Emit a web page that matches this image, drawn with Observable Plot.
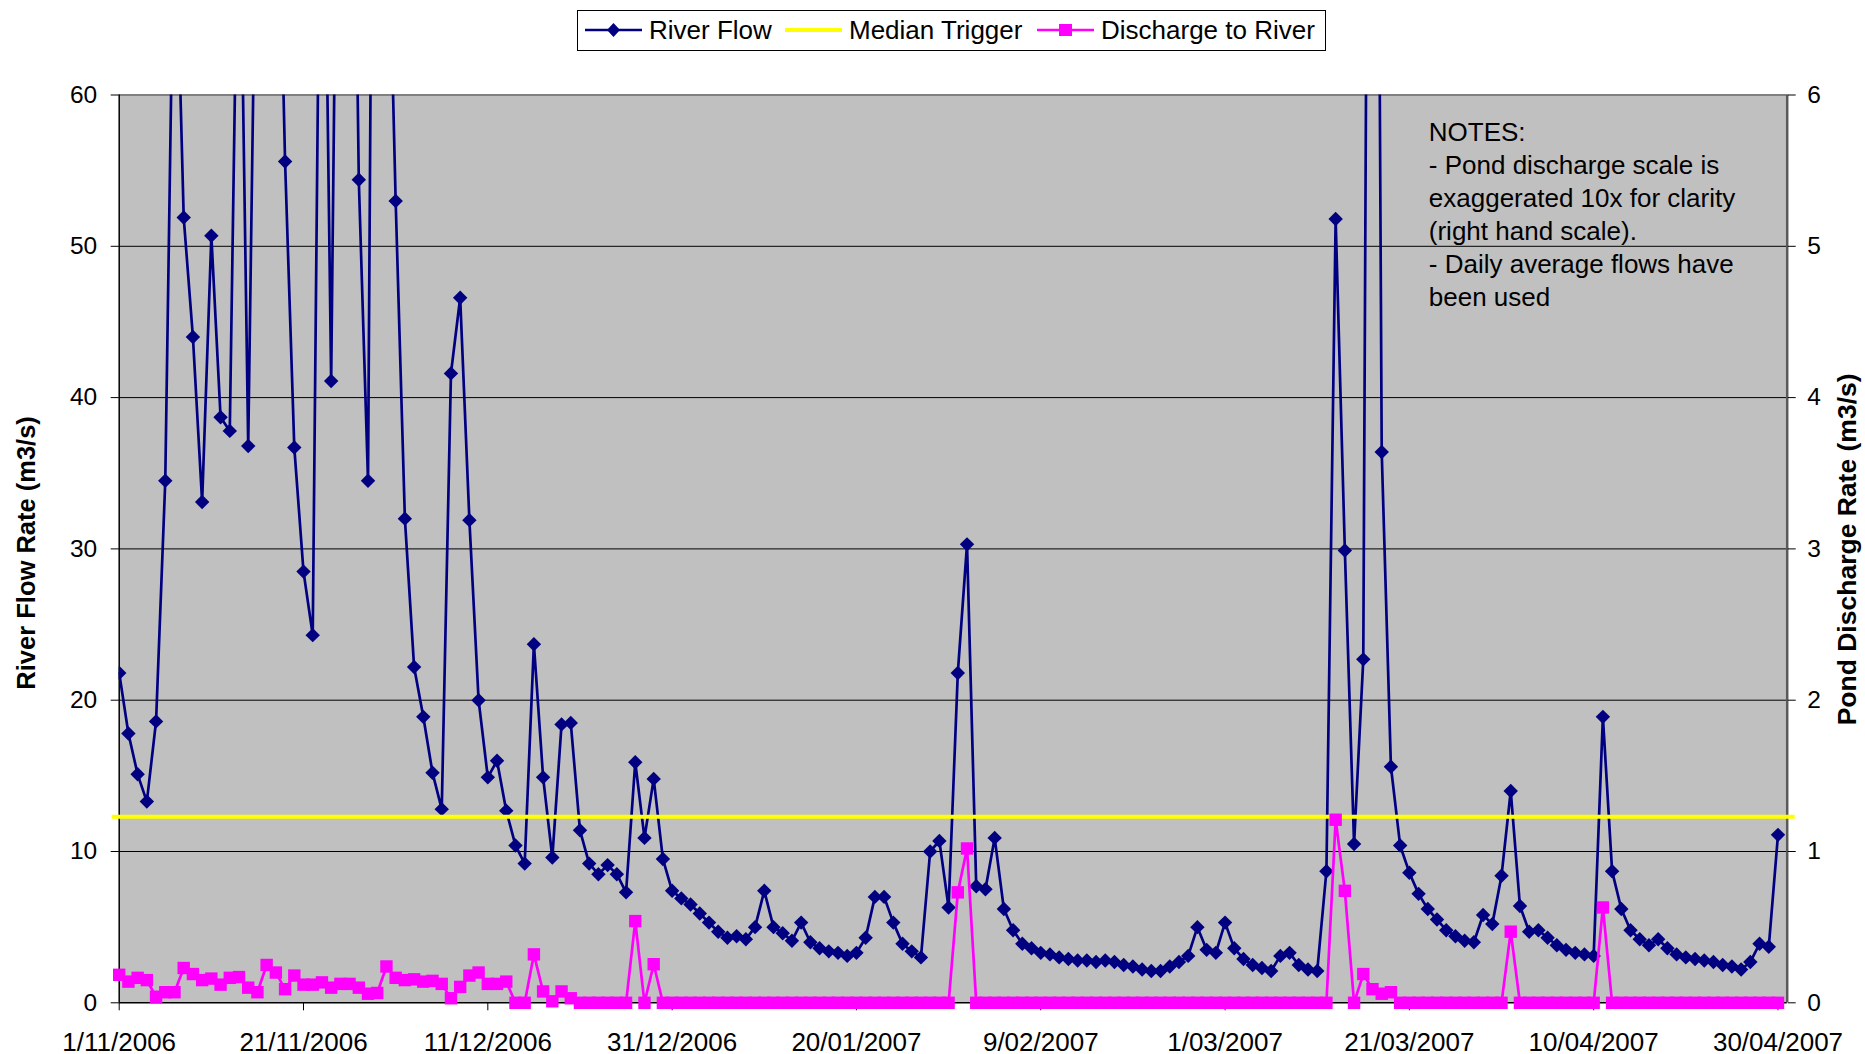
<!DOCTYPE html>
<html>
<head>
<meta charset="utf-8">
<script src="https://cdn.jsdelivr.net/npm/d3@7"></script>
<script src="https://cdn.jsdelivr.net/npm/@observablehq/plot@0.6"></script>
<style>
  html, body { margin: 0; padding: 0; background: #ffffff; }
  #wrap { position: relative; width: 1865px; height: 1054px; font-family: "Liberation Sans", Arial, sans-serif; }
  #legend { position: absolute; left: 577px; top: 9.5px; width: 749px; height: 41px; box-sizing: border-box;
            border: 1px solid #000; background: #fff; }
  .item { position: absolute; top: 0; height: 39px; display: flex; align-items: center; font-size: 26px; color: #000; white-space: nowrap; }
  .item svg { display: block; margin-right: 7px; }
</style>
</head>
<body>
<div id="wrap">
  <div id="chart"></div>
  <div id="legend"></div>
</div>
<script>
// ---- data ----
const startLabel = "1/11/2006";
const endLabel = "1/05/2007";
const xTickLabels = ["1/11/2006","21/11/2006","11/12/2006","31/12/2006","20/01/2007","9/02/2007","1/03/2007","21/03/2007","10/04/2007","30/04/2007"];
const yTicks = [0, 10, 20, 30, 40, 50, 60];
const medianTrigger = 12.3;
const seriesNames = ["River Flow", "Median Trigger", "Discharge to River"];
const seriesColors = ["#000080", "#ffff00", "#ff00ff"];
const leftTitle = "River Flow Rate (m3/s)";
const rightTitle = "Pond Discharge Rate (m3/s)";
const notes = "NOTES:\n- Pond discharge scale is\nexaggerated 10x for clarity\n(right hand scale).\n- Daily average flows have\nbeen used";

// daily river flow (m3/s), 1/11/2006 .. 30/04/2007 (values above 60 are off-chart estimates)
const riverFlow = [
  21.8, 17.8, 15.1, 13.3, 18.6, 34.5, 75, 51.9, 44.0, 33.1,
  50.7, 38.7, 37.8, 78, 36.8, 80, 90, 82, 55.6, 36.7,
  28.5, 24.3, 88, 41.1, 98, 100, 54.4, 34.5, 130, 78,
  53.0, 32.0, 22.2, 18.9, 15.2, 12.8, 41.6, 46.6, 31.9, 20.0,
  14.9, 16.0, 12.7, 10.4, 9.2, 23.7, 14.9, 9.6, 18.4, 18.5,
  11.4, 9.2, 8.5, 9.1, 8.5, 7.3, 15.9, 10.9, 14.8, 9.5,
  7.4, 6.9, 6.5, 5.9, 5.3, 4.7, 4.3, 4.4, 4.2, 5.0,
  7.4, 5.0, 4.6, 4.1, 5.3, 4.0, 3.6, 3.4, 3.3, 3.1,
  3.3, 4.3, 7.0, 7.0, 5.3, 3.9, 3.4, 3.0, 10.0, 10.7,
  6.3, 21.8, 30.3, 7.7, 7.5, 10.9, 6.2, 4.8, 3.9, 3.6,
  3.3, 3.2, 3.0, 2.9, 2.8, 2.8, 2.7, 2.8, 2.7, 2.5,
  2.4, 2.2, 2.1, 2.1, 2.4, 2.7, 3.1, 5.0, 3.5, 3.3,
  5.3, 3.6, 2.9, 2.5, 2.3, 2.1, 3.1, 3.3, 2.5, 2.2,
  2.1, 8.7, 51.8, 29.9, 10.5, 22.7, 150, 36.4, 15.6, 10.4,
  8.6, 7.2, 6.2, 5.5, 4.8, 4.4, 4.1, 4.0, 5.8, 5.2,
  8.4, 14.0, 6.4, 4.7, 4.8, 4.3, 3.8, 3.5, 3.3, 3.2,
  3.1, 18.9, 8.7, 6.2, 4.8, 4.2, 3.8, 4.2, 3.6, 3.2,
  3.0, 2.9, 2.8, 2.7, 2.5, 2.4, 2.2, 2.7, 3.9, 3.7,
  11.1
];

// daily pond discharge to river (m3/s, right-hand scale)
const discharge = [
  0.185, 0.14, 0.165, 0.15, 0.04, 0.07, 0.07, 0.23, 0.19, 0.15,
  0.16, 0.12, 0.165, 0.17, 0.10, 0.07, 0.25, 0.20, 0.09, 0.18,
  0.12, 0.12, 0.135, 0.10, 0.125, 0.125, 0.10, 0.06, 0.065, 0.24,
  0.165, 0.15, 0.155, 0.14, 0.145, 0.125, 0.03, 0.105, 0.18, 0.20,
  0.125, 0.125, 0.14, 0, 0, 0.32, 0.075, 0.01, 0.075, 0.03,
  0, 0, 0, 0, 0, 0, 0.54, 0, 0.255, 0,
  0, 0, 0, 0, 0, 0, 0, 0, 0, 0,
  0, 0, 0, 0, 0, 0, 0, 0, 0, 0,
  0, 0, 0, 0, 0, 0, 0, 0, 0, 0,
  0, 0.73, 1.02, 0, 0, 0, 0, 0, 0, 0,
  0, 0, 0, 0, 0, 0, 0, 0, 0, 0,
  0, 0, 0, 0, 0, 0, 0, 0, 0, 0,
  0, 0, 0, 0, 0, 0, 0, 0, 0, 0,
  0, 0, 1.21, 0.74, 0, 0.19, 0.09, 0.06, 0.07, 0,
  0, 0, 0, 0, 0, 0, 0, 0, 0, 0,
  0, 0.47, 0, 0, 0, 0, 0, 0, 0, 0,
  0, 0.63, 0, 0, 0, 0, 0, 0, 0, 0,
  0, 0, 0, 0, 0, 0, 0, 0, 0, 0,
  0
];

// ---- build ----
const parse = d3.utcParse("%d/%m/%Y");
const fmt = d3.utcFormat("%-d/%m/%Y");
const start = parse(startLabel);
const end = parse(endLabel);
const xTicks = xTickLabels.map(parse);
const rightFactor = 10; // right axis is 1/10 of left

const data = riverFlow.map((v, i) => ({
  date: d3.utcDay.offset(start, i),
  flow: v,
  dis: discharge[i] * rightFactor
}));

const font = "Liberation Sans, Arial, sans-serif";

const chart = Plot.plot({
  width: 1865,
  height: 1054,
  marginLeft: 118.7,
  marginRight: 78.3,
  marginTop: 94.5,
  marginBottom: 51.7,
  style: { fontFamily: font, background: "transparent", color: "#000", overflow: "visible" },
  x: { type: "utc", domain: [start, end] },
  y: { domain: [0, 60] },
  marks: [
    Plot.frame({ fill: "#c0c0c0", stroke: null }),
    Plot.gridY({ ticks: yTicks.slice(1, -1), stroke: "#000", strokeOpacity: 1, strokeWidth: 1 }),
    Plot.ruleY([yTicks[yTicks.length - 1]], { stroke: "#808080", strokeWidth: 2 }),
    Plot.ruleX([end], { stroke: "#5a5a5a", strokeWidth: 2.5 }),
    Plot.ruleX([start], { stroke: "#000", strokeWidth: 1.5 }),
    Plot.ruleY([0], { stroke: "#000", strokeWidth: 1.5 }),
    Plot.axisY({ ticks: yTicks, anchor: "left", tickSize: 8, tickPadding: 14, fontSize: 24.5, label: null, tickFormat: d => String(d) }),
    Plot.axisY({ ticks: yTicks, anchor: "right", tickSize: 8, tickPadding: 12, fontSize: 24.5, label: null, tickFormat: d => String(d / rightFactor) }),
    Plot.axisX({ ticks: xTicks, tickSize: 8, tickPadding: 22, fontSize: 26, label: null, tickFormat: fmt }),
    Plot.line(data, { x: "date", y: "flow", stroke: seriesColors[0], strokeWidth: 2.7, clip: true }),
    Plot.dot(data, { x: "date", y: "flow", symbol: "diamond2", r: 6.5, fill: seriesColors[0], stroke: null, clip: true }),
    Plot.ruleY([medianTrigger], { stroke: seriesColors[1], strokeWidth: 4, insetLeft: -7, insetRight: -8 }),
    Plot.line(data, { x: "date", y: "dis", stroke: seriesColors[2], strokeWidth: 2.7 }),
    Plot.dot(data, { x: "date", y: "dis", symbol: "square", r: 7, fill: seriesColors[2], stroke: null }),
    Plot.text([notes], { frameAnchor: "top-left", textAnchor: "start", lineAnchor: "top", dx: 1309.6, dy: 22, fontSize: 26, lineHeight: 1.273, fill: "#000" }),
    Plot.text([leftTitle], { frameAnchor: "left", textAnchor: "middle", dx: -92.7, dy: 4, rotate: -90, fontSize: 25.5, fontWeight: "bold", fill: "#000" }),
    Plot.text([rightTitle], { frameAnchor: "right", textAnchor: "middle", dx: 60.3, dy: 0.5, rotate: -90, fontSize: 26.5, fontWeight: "bold", fill: "#000" })
  ]
});
document.getElementById("chart").appendChild(chart);

// ---- legend ----
const legend = document.getElementById("legend");
const itemLeft = [7, 207, 459]; // relative to legend box
const swatch = (i) => {
  const c = seriesColors[i];
  let marker = "";
  if (i === 0) marker = `<path d="M28.5,21 L35,28 L28.5,35 L22,28 Z" fill="${c}"/>`;
  if (i === 2) marker = `<rect x="22" y="22" width="13" height="12" fill="${c}"/>`;
  const sw = i === 1 ? 4 : 2.5;
  return `<svg width="57" height="39" viewBox="0 9 57 39"><line x1="0" x2="57" y1="28" y2="28" stroke="${c}" stroke-width="${sw}"/>${marker}</svg>`;
};
seriesNames.forEach((name, i) => {
  const el = document.createElement("div");
  el.className = "item";
  el.style.left = itemLeft[i] + "px";
  el.innerHTML = swatch(i) + `<span>${name}</span>`;
  legend.appendChild(el);
});
</script>
</body>
</html>
